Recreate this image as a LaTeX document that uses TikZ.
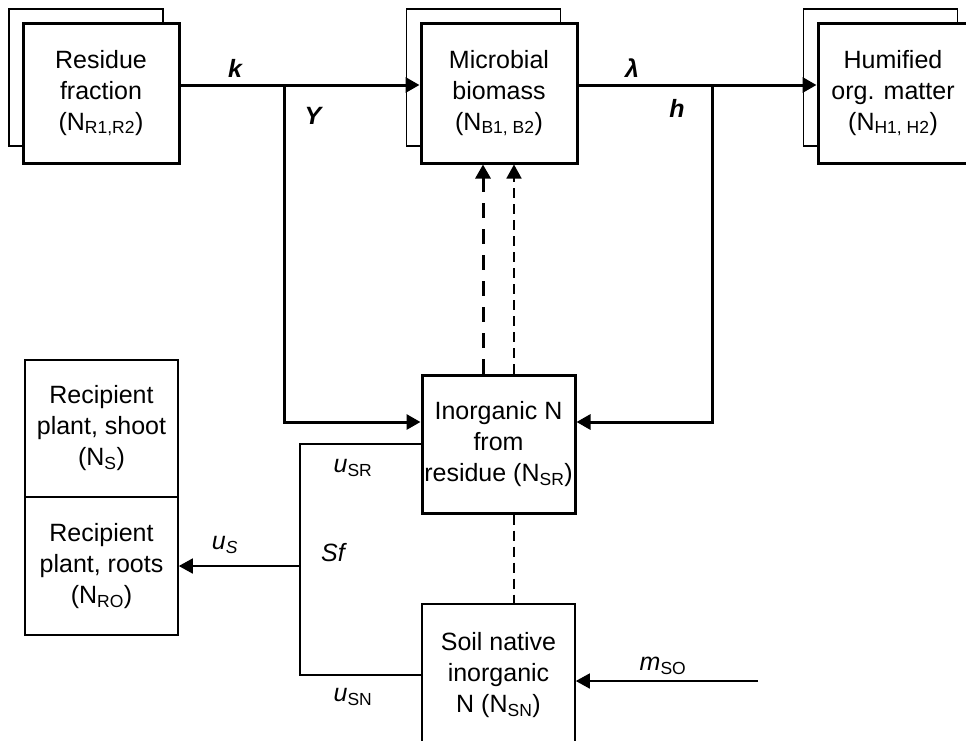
\documentclass[tikz,border=0pt]{standalone}
\usepackage{fontspec}
\setmainfont{Liberation Sans}
\usetikzlibrary{arrows.meta}
\begin{document}
\begin{tikzpicture}[x=1pt,y=-1pt,
  font=\fontsize{25}{31}\selectfont,
  frontbox/.style={draw, line width=3pt, fill=white, align=center, minimum width=156pt, minimum height=140pt, inner sep=0pt},
  backbox/.style={draw, line width=1.6pt, fill=white, minimum width=154pt, minimum height=137pt, inner sep=0pt},
  thinbox/.style={draw, line width=1.6pt, fill=white, align=center, minimum width=153pt, minimum height=137pt, inner sep=0pt},
  tip/.style={-{Triangle[length=14pt,width=15pt]}},
  thickflow/.style={line width=3pt, tip},
  thickline/.style={line width=3pt},
  thinline/.style={line width=1.6pt},
  thinflow/.style={line width=1.6pt, tip},
  thickdash/.style={line width=3pt, dash pattern=on 15pt off 11pt, tip},
  thindash/.style={line width=1.6pt, dash pattern=on 10pt off 6pt},
  lbl/.style={inner sep=0pt, font=\fontsize{25}{31}\selectfont\itshape},
  blbl/.style={inner sep=0pt, font=\fontsize{25}{31}\selectfont\bfseries\itshape}
]
\clip (0,0) rectangle (966,740);
\fill[white] (0,0) rectangle (966,740);

% stacked boxes
\node[backbox] (Rb) at (86,77.5) {};
\node[frontbox] (R) at (101,93) {Residue\\fraction\\(N\textsubscript{R1,R2})};
\node[backbox] (Mb) at (483.5,77.5) {};
\node[frontbox] (M) at (499,93) {Microbial\\biomass\\(N\textsubscript{B1, B2})};
\node[backbox] (Hb) at (880.5,77.5) {};
\node[frontbox, minimum width=150pt] (H) at (893,93) {Humified\\org. matter\\(N\textsubscript{H1, H2})};

% other boxes
\node[frontbox, minimum width=153pt, minimum height=138pt] (I) at (498.5,444) {Inorganic N\\from\\residue (N\textsubscript{SR})};
\node[thinbox, minimum height=142pt] (S) at (498.5,675) {Soil native\\inorganic\\N (N\textsubscript{SN})};
\node[thinbox] (Sh) at (101.5,428.5) {Recipient\\plant, shoot\\(N\textsubscript{S})};
\node[thinbox, minimum height=138pt] (Ro) at (101.5,566) {Recipient\\plant, roots\\(N\textsubscript{RO})};

% helper coordinates
\coordinate (j1) at (284,85);
\coordinate (j2) at (712,85);
\coordinate (d1) at (483,0);
\coordinate (d2) at (514,0);
\coordinate (bx) at (300,566);
\coordinate (mso) at (758,681);

% main flows
\draw[thickflow] ([yshift=8pt]R.east) -- ([yshift=8pt]M.west);
\draw[thickflow] ([yshift=8pt]M.east) -- ([yshift=8pt]H.west);
\draw[thickflow] (j1) |- ([yshift=22pt]I.west);
\draw[thickflow] (j2) |- ([yshift=22pt]I.east);

% dashed to biomass
\draw[thickdash] (I.north -| d1) -- (M.south -| d1);
\draw[line width=1.6pt, dash pattern=on 10pt off 6pt, tip] (I.north -| d2) -- (M.south -| d2);
\draw[thindash] (I.south -| d2) -- (S.north -| d2);

% uptake bracket
\draw[thinline] (I.west) -| (bx) |- (S.west);
\draw[thinflow] (bx) -- (Ro.east);
\draw[thinflow] (mso) -- (S.east |- mso);

% labels
\node[blbl] at (235,68) {k};
\node[blbl] at (313,116) {Y};
\node[blbl] at (632,68) {λ};
\node[blbl] at (677,108) {h};
\node[lbl] at (225,545) {u\textsubscript{S}};
\node[lbl] at (353,468) {u\textsubscript{\upshape SR}};
\node[lbl] at (333,553) {Sf};
\node[lbl] at (353,697) {u\textsubscript{\upshape SN}};
\node[lbl] at (663,666) {m\textsubscript{\upshape SO}};
\end{tikzpicture}
\end{document}
